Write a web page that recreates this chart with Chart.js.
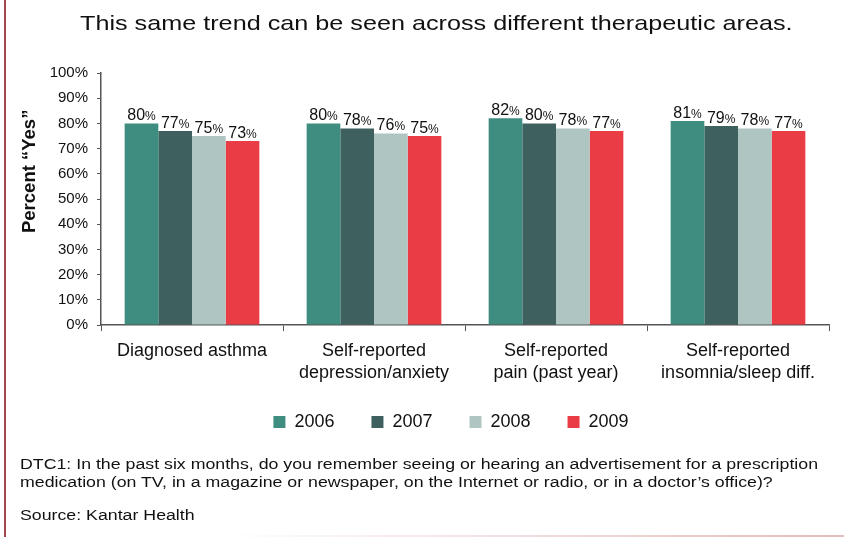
<!DOCTYPE html>
<html>
<head>
<meta charset="utf-8">
<script src="https://cdn.jsdelivr.net/npm/chart.js@4"></script>
<style>
  body { margin: 0; background: #fff; font-family: "Liberation Sans", Arial, sans-serif; }
  #wrap { position: relative; width: 844px; height: 537px; overflow: hidden; }
  #graph { position: absolute; left: 0; top: 0; }
  .redline { position: absolute; left: 4px; top: 0; width: 2px; height: 537px; background: #a3474a; }
  .bottomline { position: absolute; left: 220px; top: 535px; width: 624px; height: 2px;
    background: linear-gradient(to right, rgba(230,190,190,0), rgba(220,170,170,0.8)); }
  .title { position: absolute; left: 80px; top: 11px; font-size: 21px; color: #111; white-space: nowrap;
    transform: scaleX(1.2); transform-origin: left top; }
  .note { position: absolute; left: 20px; font-size: 15.5px; color: #111; line-height: 18px; white-space: nowrap;
    transform: scaleX(1.145); transform-origin: left top; }
</style>
</head>
<body>
<div id="wrap">
  <canvas id="graph" width="844" height="537"></canvas>
  <div class="redline"></div>
  <div class="bottomline"></div>
  <div class="title">This same trend can be seen across different therapeutic areas.</div>
  <div class="note" style="top:455px">DTC1: In the past six months, do you remember seeing or hearing an advertisement for a prescription<br>medication (on TV, in a magazine or newspaper, on the Internet or radio, or in a doctor’s office)?</div>
  <div class="note" style="top:506px">Source: Kantar Health</div>
</div>
<script>
var categories = [
  ["Diagnosed asthma"],
  ["Self-reported", "depression/anxiety"],
  ["Self-reported", "pain (past year)"],
  ["Self-reported", "insomnia/sleep diff."]
];
var years = ["2006", "2007", "2008", "2009"];
var values2006 = [80, 80, 82, 81];
var values2007 = [77, 78, 80, 79];
var values2008 = [75, 76, 78, 78];
var values2009 = [73, 75, 77, 77];
var colors = ["#3f8d80", "#3e605f", "#aec5c2", "#e93c45"];
var yTicks = [0, 10, 20, 30, 40, 50, 60, 70, 80, 90, 100];
var yTitle = "Percent “Yes”";

var canvas = document.getElementById("graph");
var font = "'Liberation Sans', Arial, sans-serif";

// value labels like "80%" with a smaller percent sign, plus the y title
var barLabels = {
  id: "barLabels",
  afterLayout: function(chart) {
    // pull the legend up a bit closer to the category labels
    chart.legend.top -= 17;
    chart.legend.bottom -= 17;
  },
  afterDatasetsDraw: function(chart) {
    var ctx = chart.ctx;
    ctx.save();
    ctx.fillStyle = "#111";
    ctx.textBaseline = "alphabetic";
    chart.data.datasets.forEach(function(ds, i) {
      chart.getDatasetMeta(i).data.forEach(function(bar, j) {
        var num = String(ds.data[j]);
        ctx.font = "16px " + font;
        var w1 = ctx.measureText(num).width;
        ctx.font = "12px " + font;
        var w2 = ctx.measureText("%").width;
        var x0 = bar.x - (w1 + w2) / 2;
        var y0 = bar.y - 3;
        ctx.font = "16px " + font;
        ctx.textAlign = "left";
        ctx.fillText(num, x0, y0);
        ctx.font = "12px " + font;
        ctx.fillText("%", x0 + w1, y0);
      });
    });
    var a = chart.chartArea;
    ctx.translate(30, a.top + (a.bottom - a.top) * 0.39);
    ctx.rotate(-Math.PI / 2);
    ctx.font = "bold 18.5px " + font;
    ctx.textAlign = "center";
    ctx.textBaseline = "middle";
    ctx.fillText(yTitle, 0, 0);
    ctx.restore();
  }
};

var seriesData = [values2006, values2007, values2008, values2009];

var chart = new Chart(canvas, {
  type: "bar",
  data: {
    labels: categories,
    datasets: years.map(function(y, i) {
      return {
        label: y,
        data: seriesData[i],
        backgroundColor: colors[i],
        borderWidth: 0,
        categoryPercentage: 0.74,
        barPercentage: 1.0
      };
    })
  },
  options: {
    responsive: false,
    animation: false,
    layout: { padding: { left: 43, right: -15, top: 73, bottom: 79 } },
    plugins: {
      title: { display: false },
      legend: {
        display: true,
        position: "bottom",
        labels: {
          color: "#111",
          font: { family: font, size: 18 },
          boxWidth: 12,
          boxHeight: 12,
          padding: 37
        }
      },
      tooltip: { enabled: false }
    },
    scales: {
      x: {
        grid: { display: true, drawOnChartArea: false, offset: true, tickLength: 6, color: "#555" },
        border: { color: "#555", width: 1.5 },
        ticks: { color: "#111", font: { family: font, size: 18, lineHeight: 1.22 }, padding: 9, maxRotation: 0 }
      },
      y: {
        min: 0,
        max: 100,
        afterFit: function(scale) { scale.width = 58; },
        afterBuildTicks: function(scale) { scale.ticks = yTicks.map(function(v) { return { value: v }; }); },
        grid: { display: true, drawOnChartArea: false, tickLength: 4, color: "#555" },
        border: { color: "#555", width: 1.5 },
        ticks: {
          color: "#111",
          font: { family: font, size: 15 },
          padding: 9,
          callback: function(v) { return v + "%"; }
        }
      },
      // empty spacer on the right so the legend sits where it does in the original
      yRight: {
        position: "right",
        afterFit: function(scale) { scale.width = 30; },
        grid: { display: false },
        border: { display: false },
        ticks: { display: false }
      }
    }
  },
  plugins: [barLabels]
});
</script>
</body>
</html>
